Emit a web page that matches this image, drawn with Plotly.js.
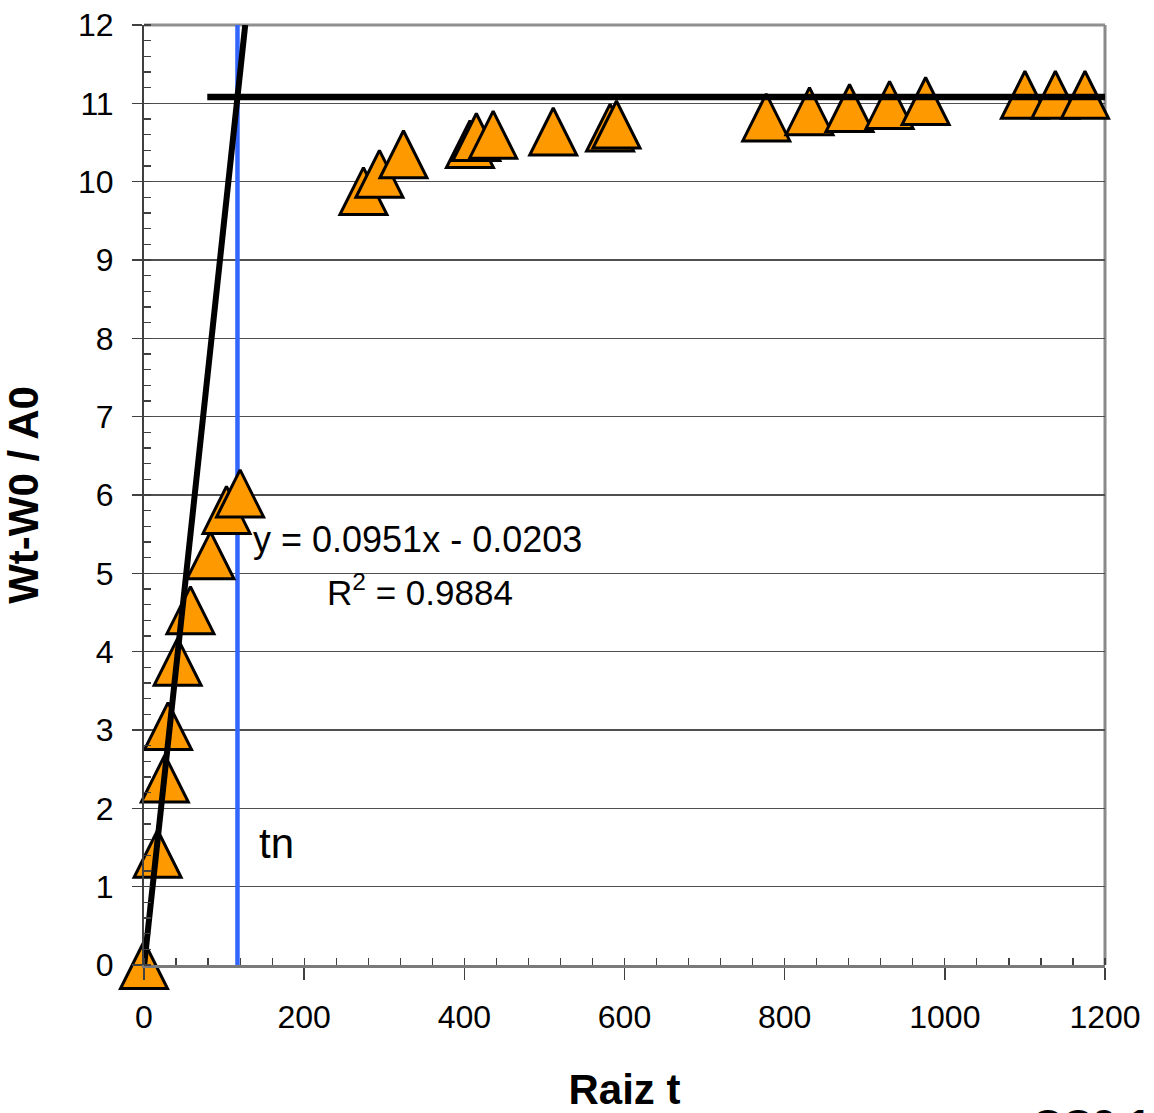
<!DOCTYPE html>
<html><head><meta charset="utf-8">
<script src="https://cdn.plot.ly/plotly-3.0.1.min.js"></script>
<style>html,body{margin:0;padding:0;background:#fff}#chart{width:1154px;height:1113px}</style>
</head><body><div id="chart"></div>
<script>
// ---- data ----
const rootT = [0, 17, 26, 30, 42, 58, 83, 103, 120, 274, 294, 324, 407, 415, 436, 511, 582, 590, 777, 831, 881, 931, 976, 1100, 1138, 1175];
const ratio = [0, 1.42, 2.38, 3.05, 3.87, 4.53, 5.23, 5.81, 6.02, 9.88, 10.10, 10.35, 10.48, 10.57, 10.60, 10.64, 10.69, 10.73, 10.82, 10.90, 10.94, 10.98, 11.03, 11.11, 11.11, 11.11];
const slope = 0.0951;
const intercept = -0.0203;
const rSquared = 0.9884;
const plateau = 11.08;
const plateauStart = 79;
const xTickVals = [0, 200, 400, 600, 800, 1000, 1200];
const yTickVals = [0, 1, 2, 3, 4, 5, 6, 7, 8, 9, 10, 11, 12];
const xTitle = 'Raiz t';
const yTitle = 'Wt-W0 / A0';
const tnLabel = 'tn';
const cornerText = 'CC9 1';

// ---- layout geometry ----
const W = 1154, H = 1113;
const M = {l: 144, r: 49, t: 25, b: 148};
const plotH = H - M.t - M.b;
const xRange = [0, 1200];
const yRange = [0, 12];
const markerSize = 47;
// "arrow-up" symbol has its apex on the point; shift an overlay axis by half its height so the triangle is centred
const delta = (markerSize / 2) * (yRange[1] - yRange[0]) / plotH;
const tn = (plateau - intercept) / slope;
const trendEnd = (yRange[1] - intercept) / slope;
const FONT = 'Liberation Sans, Arial, sans-serif';

const traces = [
  {x: [tn, tn], y: yRange, mode: 'lines', yaxis: 'y',
   line: {color: '#3366ff', width: 4.5}, hoverinfo: 'skip'},
  {x: rootT, y: ratio, mode: 'markers', yaxis: 'y2', cliponaxis: false,
   marker: {symbol: 'arrow-up', size: markerSize, color: '#ff9900',
            line: {color: '#000000', width: 3}}},
  {x: [0, trendEnd], y: [intercept, slope * trendEnd + intercept], mode: 'lines', yaxis: 'y3',
   line: {color: '#000000', width: 6}},
  {x: [plateauStart, xRange[1]], y: [plateau, plateau], mode: 'lines', yaxis: 'y3', cliponaxis: false,
   line: {color: '#000000', width: 6.5}}
];

const layout = {
  width: W, height: H, margin: M,
  paper_bgcolor: '#ffffff', plot_bgcolor: '#ffffff',
  showlegend: false,
  font: {family: FONT, color: '#000000'},
  xaxis: {
    range: xRange, tickvals: xTickVals, ticktext: xTickVals.map(String),
    ticks: 'outside', ticklen: 12, tickwidth: 1.5, tickcolor: '#404040',
    minor: {dtick: 40, ticks: 'inside', ticklen: 7, tickwidth: 1.2, tickcolor: '#404040', showgrid: false},
    showline: true, linecolor: '#7a7a7a', linewidth: 2.5,
    showgrid: false, zeroline: false,
    tickfont: {family: FONT, size: 32, color: '#000'},
    ticklabelstandoff: 10,
    title: {text: xTitle, font: {family: FONT, size: 42, weight: 'bold', color: '#000'}, standoff: 42}
  },
  yaxis: {
    range: yRange, tickvals: yTickVals, ticktext: yTickVals.map(String),
    ticks: 'outside', ticklen: 10, tickwidth: 1.5, tickcolor: '#404040',
    minor: {dtick: 0.2, ticks: 'inside', ticklen: 7, tickwidth: 1.2, tickcolor: '#404040', showgrid: false},
    showline: true, linecolor: '#404040', linewidth: 2,
    showgrid: true, gridcolor: '#505050', gridwidth: 1.2, zeroline: false,
    tickfont: {family: FONT, size: 32, color: '#000'},
    ticklabelstandoff: 12,
    title: {text: yTitle, font: {family: FONT, size: 42, weight: 'bold', color: '#000'}, standoff: 27}
  },
  yaxis2: {overlaying: 'y', range: [yRange[0] - delta, yRange[1] - delta], visible: false, fixedrange: true},
  yaxis3: {overlaying: 'y', range: yRange, visible: false, fixedrange: true},
  shapes: [
    {type: 'line', xref: 'paper', yref: 'paper', x0: 0, x1: 1, y0: 1, y1: 1,
     line: {color: '#909090', width: 3}, layer: 'below'},
    {type: 'line', xref: 'paper', yref: 'paper', x0: 1, x1: 1, y0: 0, y1: 1,
     line: {color: '#8a8a8a', width: 3}, layer: 'below'}
  ],
  annotations: [
    {x: 133, y: 5.43, xref: 'x', yref: 'y', xanchor: 'left', yanchor: 'middle', showarrow: false,
     text: 'y = ' + slope + 'x - ' + Math.abs(intercept), font: {family: FONT, size: 36, color: '#000'}},
    {x: 226, y: 4.79, xref: 'x', yref: 'y', xanchor: 'left', yanchor: 'middle', showarrow: false,
     text: 'R<sup>2</sup> = ' + rSquared, font: {family: FONT, size: 35, color: '#000'}},
    {x: 141, y: 1.55, xref: 'x', yref: 'y', xanchor: 'left', yanchor: 'middle', showarrow: false,
     text: tnLabel, font: {family: FONT, size: 42, color: '#000'}},
    {x: 0.922, y: -0.143, xref: 'paper', yref: 'paper', xanchor: 'left', yanchor: 'top', showarrow: false,
     text: '<b>' + cornerText + '</b>', font: {family: FONT, size: 42, color: '#000'}}
  ]
};

Plotly.newPlot('chart', traces, layout, {staticPlot: true, displayModeBar: false});
</script>
</body></html>
